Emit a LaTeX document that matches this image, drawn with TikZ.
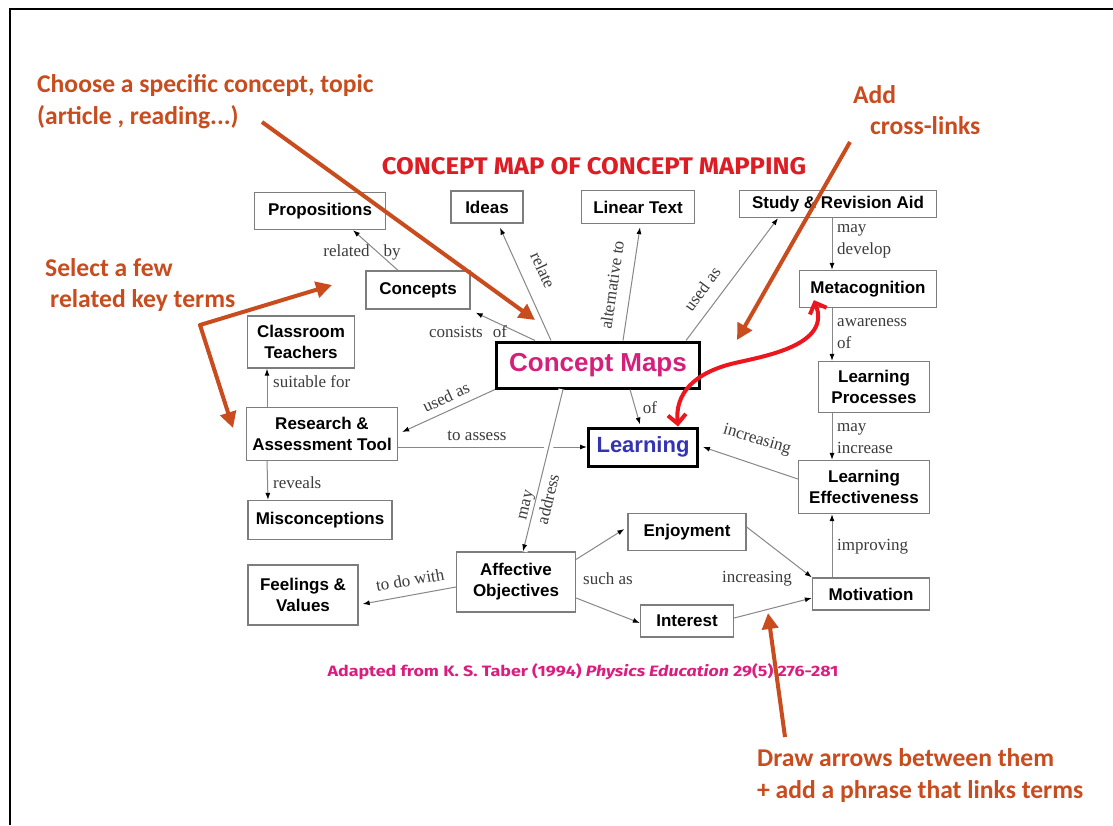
\documentclass[tikz,border=0pt]{standalone}
\usepackage{fontspec}
\setmainfont{Liberation Serif}
\setsansfont{Liberation Sans}
\newfontfamily\notefont{Carlito}
\newfontfamily\titlefont{Fira Sans}
\usetikzlibrary{arrows.meta}

\definecolor{noteorange}{RGB}{200,76,30}
\definecolor{crossred}{RGB}{235,22,30}
\definecolor{mapmagenta}{RGB}{212,32,122}
\definecolor{learnblue}{RGB}{52,52,178}
\definecolor{titlered}{RGB}{222,28,36}
\definecolor{captionpink}{RGB}{218,30,128}
\definecolor{boxgray}{RGB}{125,125,125}
\definecolor{linkgray}{RGB}{135,135,135}
\definecolor{labelgray}{RGB}{60,60,60}

\begin{document}
\begin{tikzpicture}[x=1pt,y=-1pt,
  box/.style={draw=boxgray, line width=1.3pt, fill=white, align=center,
    inner sep=2pt, text=black,
    font=\sffamily\bfseries\fontsize{17}{21}\selectfont},
  mainbox/.style={box, draw=black, line width=3pt},
  link/.style={draw=linkgray, line width=1pt,
    -{Latex[length=7pt,width=5pt,color=black]}},
  lbl/.style={inner sep=0pt, text=labelgray,
    font=\fontsize{17}{22}\selectfont},
  note/.style={inner sep=0pt, anchor=base west, text=noteorange,
    font=\notefont\bfseries\fontsize{25.6}{32}\selectfont},
  notearrow/.style={draw=noteorange, line width=4pt,
    -{Triangle[length=16pt,width=16pt]}},
  crossarrow/.style={draw=crossred, line width=4pt,
    {Straight Barb[length=9pt,width=18pt]}-{Straight Barb[length=9pt,width=18pt]}}
]
\useasboundingbox (0,0) rectangle (1113,825);
\fill[white] (0,0) rectangle (1113,825);

% slide frame
\draw[line width=2.5pt] (10,825) -- (10,9) -- (1113,9);

% title and source line
\node[text=titlered, inner sep=0pt, xscale=1.07,
  font=\titlefont\bfseries\fontsize{24}{28}\selectfont]
  (title) at (594,166) {CONCEPT MAP OF CONCEPT MAPPING};
\node[text=captionpink, inner sep=0pt, xscale=1.19,
  font=\titlefont\bfseries\fontsize{15}{17}\selectfont]
  (source) at (583,672) {Adapted from K. S. Taber (1994) \textit{Physics Education} 29(5) 276-281};

% concepts
\node[box, minimum width=131pt, minimum height=37pt] (props) at (320,211) {Propositions};
\node[box, minimum width=72pt, minimum height=32pt] (ideas) at (487,207) {Ideas};
\node[box, minimum width=113pt, minimum height=33pt] (linear) at (638,207) {Linear Text};
\node[box, minimum width=197pt, minimum height=27pt] (study) at (838,204) {Study \& Revision Aid};
\node[box, minimum width=104pt, minimum height=38pt] (concepts) at (418,290) {Concepts};
\node[box, minimum width=137pt, minimum height=37pt] (meta) at (868,289) {Metacognition};
\node[box, minimum width=107pt, minimum height=52pt] (teachers) at (301,342) {Classroom\\Teachers};
\node[mainbox, minimum width=203pt, minimum height=46pt, text=mapmagenta,
  font=\sffamily\bfseries\fontsize{26}{30}\selectfont] (cmap) at (598,365) {Concept Maps};
\node[box, minimum width=111pt, minimum height=51pt] (lproc) at (874,387) {Learning\\Processes};
\node[box, minimum width=151pt, minimum height=53pt] (rat) at (322,434) {Research \&\\Assessment Tool};
\node[mainbox, minimum width=109pt, minimum height=38pt, text=learnblue,
  font=\sffamily\bfseries\fontsize{22}{26}\selectfont] (learning) at (643,447) {Learning};
\node[box, minimum width=131pt, minimum height=53pt] (leff) at (864,487) {Learning\\Effectiveness};
\node[box, minimum width=144pt, minimum height=39pt] (miscon) at (320,520) {Misconceptions};
\node[box, minimum width=118pt, minimum height=37pt] (enjoy) at (687,532) {Enjoyment};
\node[box, minimum width=119pt, minimum height=60pt] (affect) at (516,582) {Affective\\Objectives};
\node[box, minimum width=110pt, minimum height=60pt] (feel) at (303,595) {Feelings \&\\Values};
\node[box, minimum width=117pt, minimum height=32pt] (motiv) at (871,594) {Motivation};
\node[box, minimum width=93pt, minimum height=32pt] (interest) at (687,621) {Interest};

% links
\draw[link] ([xshift=-20pt]concepts.north) -- ([xshift=33pt]props.south);
\draw[link] ([xshift=40pt]cmap.north west) -- ([xshift=5pt,yshift=-3pt]concepts.south east);
\draw[link] ([xshift=56pt]cmap.north west) -- ([xshift=13pt,yshift=-4pt]ideas.south);
\draw[link] ([xshift=25pt]cmap.north) -- ([xshift=2pt,yshift=-3pt]linear.south);
\draw[link] ([xshift=-15pt]cmap.north east) -- ([xshift=-60pt]study.south);
\draw[link] ([xshift=-6pt]study.south) -- ([xshift=-36pt]meta.north);
\draw[link] ([xshift=-36pt]meta.south) -- ([xshift=-42pt]lproc.north);
\draw[link] ([xshift=-42pt]lproc.south) -- ([xshift=-32pt]leff.north);
\draw[link] ([xshift=-39pt]motiv.north) -- ([xshift=-32pt]leff.south);
\draw[link] ([yshift=8pt]leff.west) -- ([xshift=4pt]learning.east);
\draw[link] ([xshift=32pt]cmap.south) -- ([xshift=-3pt,yshift=2pt]learning.north);
\draw[link] (cmap.south west) -- ([xshift=4pt,yshift=2pt]rat.east);
\draw[link] ([yshift=-13pt]rat.east) -- (learning.west);
\draw[link] ([xshift=-55pt]rat.north) -- ([xshift=-34pt]teachers.south);
\draw[link] ([xshift=-55pt]rat.south) -- ([xshift=-52pt]miscon.north);
\draw[link, preaction={draw=white, line width=9pt, arrows=-}]
  ([xshift=-35pt]cmap.south) -- ([xshift=7pt]affect.north);
\draw[link] ([yshift=-5pt]affect.west) -- ([xshift=4pt,yshift=-9pt]feel.east);
\draw[link] ([yshift=-8pt]affect.north east) -- ([xshift=-3pt,yshift=3pt]enjoy.west);
\draw[link] ([yshift=-16pt]affect.east) -- ([yshift=-2pt]interest.west);
\draw[link] ([yshift=5pt]enjoy.east) -- (motiv.north west);
\draw[link] ([yshift=3pt]interest.east) -- ([yshift=-4pt]motiv.west);

% linking phrases
\node[lbl] (lrelby) at (362,252) {related\hspace{14pt}by};
\node[lbl] (lcons) at (468,332) {consists\hspace{10pt}of};
\node[lbl, rotate=-65.6] (lrelate) at (543,270) {relate};
\node[lbl, rotate=81.7] (lalt) at (612,285) {alternative to};
\node[lbl, rotate=53.3] (lused1) at (702,289) {used as};
\node[lbl, anchor=west, align=left] (ldevelop) at (837,241) {may\\develop};
\node[lbl, anchor=west, align=left] (laware) at (837,334) {awareness\\of};
\node[lbl, anchor=west, align=left] (lmayinc) at (837,439) {may\\increase};
\node[lbl, anchor=west] (limpr) at (837,547) {improving};
\node[lbl, rotate=-16.9] (lincr1) at (757,440) {increasing};
\node[lbl] (lof) at (650,408) {of};
\node[lbl, rotate=24.4] (lused2) at (446,397) {used as};
\node[lbl] (lassess) at (477,436) {to assess};
\node[lbl, anchor=west] (lsuit) at (273,382) {suitable for};
\node[lbl, anchor=west] (lreveal) at (273,483) {reveals};
\node[lbl, rotate=76.3, align=left] (laddress) at (539,497) {may\\address};
\node[lbl, rotate=10] (ldowith) at (410,580) {to do with};
\node[lbl] (lsuch) at (608,579) {such as};
\node[lbl] (lincr2) at (757,579) {increasing};

% cross-link between Metacognition and Learning
\draw[crossarrow] ([xshift=15pt,yshift=8pt]meta.south west)
  .. controls (832,345) and (765,356) .. (735,363)
  .. controls (692,373) and (675,395) .. ([xshift=35pt]learning.north);

% how-to notes
\node[note] (n1a) at (37,92) {Choose a specific concept, topic};
\node[note] (n1b) at (37,124) {(article , reading...)};
\node[note] (n2a) at (853,103) {Add};
\node[note] (n2b) at (870,134) {cross-links};
\node[note] (n3a) at (45,276) {Select a few};
\node[note] (n3b) at (50,307) {related key terms};
\node[note] (n4a) at (757,766) {Draw arrows between them};
\node[note] (n4b) at (757,798) {+ add a phrase that links terms};

\coordinate (chooseTail) at (262,122);
\coordinate (chooseTip) at (535,320);
\coordinate (crossTail) at (850,142);
\coordinate (crossTip) at (737,340);
\coordinate (keyUp) at (332,285);
\coordinate (keyBend) at (200,325);
\coordinate (keyDown) at (233,428);
\coordinate (drawTail) at (785,737);
\coordinate (drawTip) at (768,613);

\draw[notearrow] (chooseTail) -- (chooseTip);
\draw[notearrow] (crossTail) -- (crossTip);
\draw[notearrow, {Triangle[length=16pt,width=16pt]}-{Triangle[length=16pt,width=16pt]}, line join=round]
  (keyUp) -- (keyBend) -- (keyDown);
\draw[notearrow] (drawTail) -- (drawTip);
\end{tikzpicture}
\end{document}
